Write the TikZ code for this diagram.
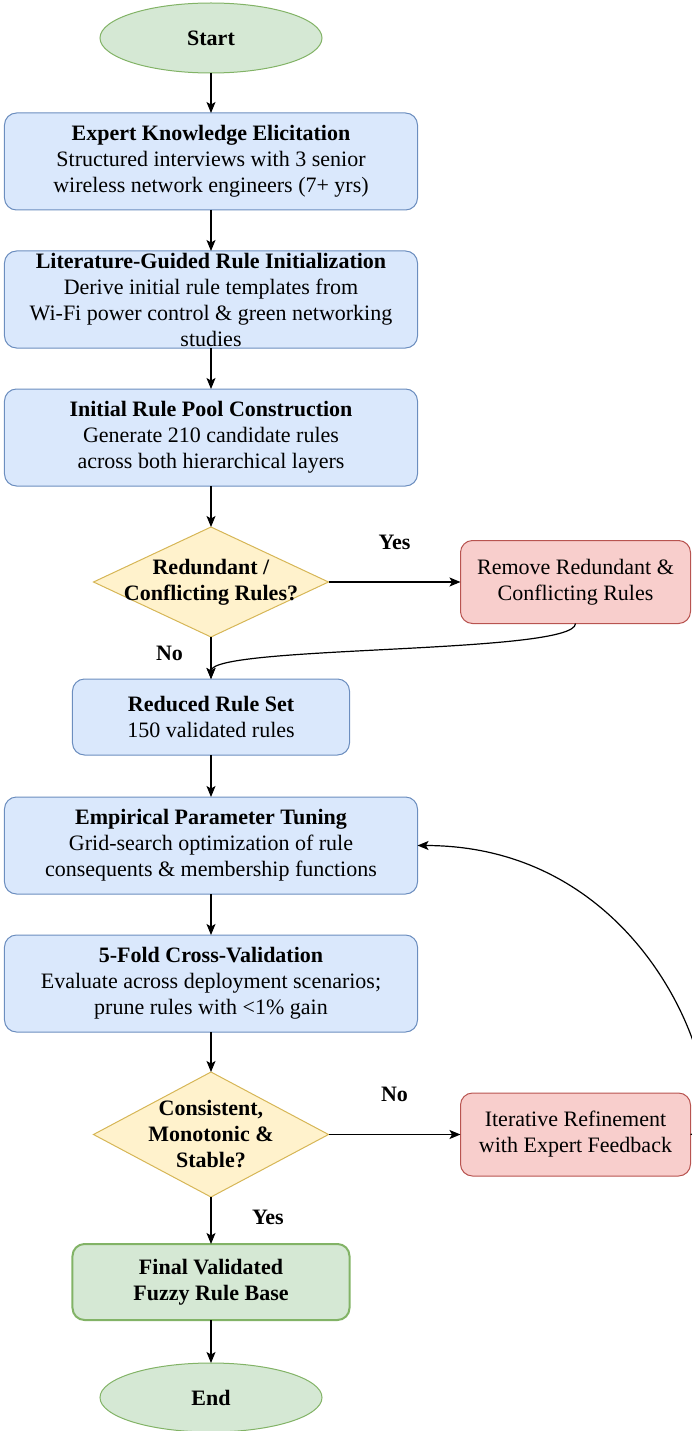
\documentclass[tikz,border=0pt]{standalone}
\usepackage{fontspec}
\setmainfont{Liberation Serif}
\usetikzlibrary{positioning,shapes.geometric,arrows.meta}

\definecolor{procfill}{HTML}{DAE8FC}
\definecolor{procline}{HTML}{6C8EBF}
\definecolor{decfill}{HTML}{FFF2CC}
\definecolor{decline}{HTML}{D6B656}
\definecolor{actfill}{HTML}{F8CECC}
\definecolor{actline}{HTML}{B85450}
\definecolor{termfill}{HTML}{D5E8D4}
\definecolor{termline}{HTML}{82B366}

\begin{document}
\begin{tikzpicture}[
	x=1pt, y=1pt,
	node distance=41pt and 132pt,
	every node/.append style={outer sep=0pt},
	font=\fontsize{22}{26}\selectfont,
	terminal/.style={draw=termline,fill=termfill,ellipse,line width=1pt,minimum width=222pt,minimum height=70pt,inner sep=0pt,font=\fontsize{22}{26}\selectfont\bfseries},
	process/.style={draw=procline,fill=procfill,rounded corners=12pt,line width=1pt,minimum width=413pt,minimum height=97pt,inner sep=0pt,align=center},
	shortproc/.style={process,minimum width=277pt,minimum height=76pt},
	finalbox/.style={shortproc,draw=termline,fill=termfill,line width=2pt,font=\fontsize{22}{26}\selectfont\bfseries},
	action/.style={draw=actline,fill=actfill,rounded corners=12pt,line width=1pt,minimum width=230pt,minimum height=83pt,inner sep=0pt,align=center},
	decision/.style={draw=decline,fill=decfill,diamond,line width=1pt,minimum width=235pt,minimum height=110pt,inner sep=0pt},
	declabel/.style={align=center,inner sep=0pt,font=\fontsize{22}{26}\selectfont\bfseries},
	lbl/.style={inner sep=0pt,text height=15pt,text depth=5pt,font=\fontsize{22}{26}\selectfont\bfseries},
	flow/.style={draw,line width=1.2pt,-{Stealth[length=11pt,width=9pt,inset=2.5pt]}}
	]
	\useasboundingbox (-211,38) rectangle (480,-1393);
	\node[terminal] (start) at (0,0) {Start};
	\node[process,below=40pt of start] (expert) {\textbf{Expert Knowledge Elicitation}\\Structured interviews with 3 senior\\wireless network engineers (7+ yrs)};
	\node[process,below=of expert] (literature) {\textbf{Literature-Guided Rule Initialization}\\Derive initial rule templates from\\Wi-Fi power control \& green networking\\studies};
	\node[process,below=of literature] (pool) {\textbf{Initial Rule Pool Construction}\\Generate 210 candidate rules\\across both hierarchical layers};
	\node[decision,below=of pool,label={[declabel]center:{Redundant /\\Conflicting Rules?}}] (redundant) {};
	\node[action,right=of redundant] (remove) {Remove Redundant \&\\Conflicting Rules};
	\node[shortproc,below=42pt of redundant] (reduced) {\textbf{Reduced Rule Set}\\150 validated rules};
	\node[process,below=42pt of reduced] (tuning) {\textbf{Empirical Parameter Tuning}\\Grid-search optimization of rule\\consequents \& membership functions};
	\node[process,below=of tuning] (crossval) {\textbf{5-Fold Cross-Validation}\\Evaluate across deployment scenarios;\\prune rules with <1\% gain};
	\node[decision,minimum height=125pt,below=40pt of crossval,label={[declabel]center:{Consistent,\\Monotonic \&\\Stable?}}] (stable) {};
	\node[action,right=of stable] (refine) {Iterative Refinement\\with Expert Feedback};
	\node[finalbox,below=47pt of stable] (final) {Final Validated\\Fuzzy Rule Base};
	\node[terminal,minimum height=69pt,below=43pt of final] (stop) {End};
	\path[flow]
	(start) edge (expert)
	(expert) edge (literature)
	(literature) edge (pool)
	(pool) edge (redundant)
	(redundant) edge node[lbl,above=28pt] (yesred) {Yes} (remove)
	(redundant) edge node[lbl,pos=0.43,left=28pt] (nored) {No} (reduced)
	(reduced) edge (tuning)
	(tuning) edge (crossval)
	(crossval) edge (stable)
	(stable) edge node[lbl,above=28pt] (nostable) {No} (refine)
	(stable) edge node[lbl,pos=0.48,right=41pt] (yesstable) {Yes} (final)
	(final) edge (stop);
	\draw[flow] (remove.south) .. controls +(0,-31) and +(0,34) .. (reduced.north);
	\draw[flow] (refine.east) .. controls +(50,0) and +(255,0) .. (tuning.east);
\end{tikzpicture}
\end{document}
